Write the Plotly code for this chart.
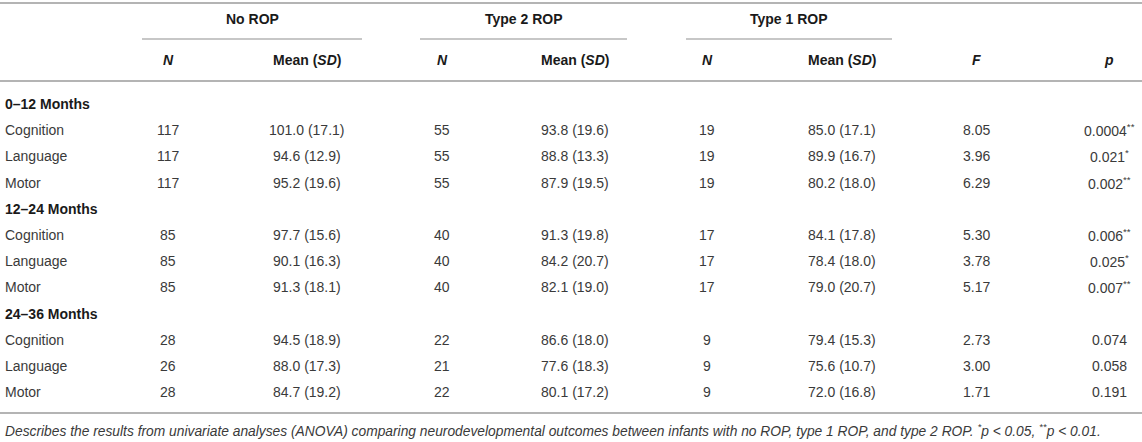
import plotly.graph_objects as go

groups = ["No ROP", "Type 2 ROP", "Type 1 ROP"]
sections = ["0–12 Months", "12–24 Months", "24–36 Months"]
measures = ["Cognition", "Language", "Motor"]

n_none = [117, 117, 117, 85, 85, 85, 28, 26, 28]
mean_none = [101.0, 94.6, 95.2, 97.7, 90.1, 91.3, 94.5, 88.0, 84.7]
sd_none = [17.1, 12.9, 19.6, 15.6, 16.3, 18.1, 18.9, 17.3, 19.2]

n_type2 = [55, 55, 55, 40, 40, 40, 22, 21, 22]
mean_type2 = [93.8, 88.8, 87.9, 91.3, 84.2, 82.1, 86.6, 77.6, 80.1]
sd_type2 = [19.6, 13.3, 19.5, 19.8, 20.7, 19.0, 18.0, 18.3, 17.2]

n_type1 = [19, 19, 19, 17, 17, 17, 9, 9, 9]
mean_type1 = [85.0, 89.9, 80.2, 84.1, 78.4, 79.0, 79.4, 75.6, 72.0]
sd_type1 = [17.1, 16.7, 18.0, 17.8, 18.0, 20.7, 15.3, 10.7, 16.8]

f_vals = [8.05, 3.96, 6.29, 5.30, 3.78, 5.17, 2.73, 3.00, 1.71]
p_vals = ["0.0004", "0.021", "0.002", "0.006", "0.025", "0.007", "0.074", "0.058", "0.191"]
p_stars = ["**", "*", "**", "**", "*", "**", "", "", ""]

footnote = ("Describes the results from univariate analyses (ANOVA) comparing neurodevelopmental "
            "outcomes between infants with no ROP, type 1 ROP, and type 2 ROP. "
            "<sup>*</sup>p &lt; 0.05, <sup>**</sup>p &lt; 0.01.")

# layout (pixels)
W, H = 1142, 442
group_x = [252, 524, 789]
group_span = [(142, 362), (420, 627), (686, 892)]
n_x = [168, 442, 707]
mean_x = [307, 575, 842]
f_x = 976
p_x = 1109
row0_y = 104
row_step = 26.2

FONT = "Liberation Sans, Arial, sans-serif"
BODY = "#3a3a3a"
HEAD = "#1a1a1a"
RULE = "#b4b4b4"

fig = go.Figure()
ann = []


def txt(x, y, s, anchor="center", size=14, color=BODY):
    ann.append(dict(x=x, y=y, text=s, showarrow=False, xanchor=anchor, yanchor="middle",
                    font=dict(family=FONT, size=size, color=color)))


# header
for g, gx in zip(groups, group_x):
    txt(gx, 19, "<b>%s</b>" % g, color=HEAD)
for nx, mx in zip(n_x, mean_x):
    txt(nx, 60, "<b><i>N</i></b>", color=HEAD)
    txt(mx, 60, "<b>Mean (<i>SD</i>)</b>", color=HEAD)
txt(f_x, 60, "<b><i>F</i></b>", color=HEAD)
txt(p_x, 60, "<b><i>p</i></b>", color=HEAD)

# body
cols = [(n_none, mean_none, sd_none), (n_type2, mean_type2, sd_type2), (n_type1, mean_type1, sd_type1)]
row = 0
for si, sec in enumerate(sections):
    y = row0_y + row * row_step
    txt(3, y, "<b>%s</b>" % sec, anchor="left", color=HEAD)
    row += 1
    for mi, m in enumerate(measures):
        i = si * 3 + mi
        y = row0_y + row * row_step
        txt(3, y, m, anchor="left")
        for (ns, ms, sds), nx, mx in zip(cols, n_x, mean_x):
            txt(nx, y, str(ns[i]))
            txt(mx, y, "%.1f (%.1f)" % (ms[i], sds[i]))
        txt(f_x, y, "%.2f" % f_vals[i])
        stars = "<sup>%s</sup>" % p_stars[i] if p_stars[i] else ""
        txt(p_x, y, p_vals[i] + stars)
        row += 1

txt(3, 430, "<i>%s</i>" % footnote, anchor="left", size=13.8)

shapes = []
for yy in [3, 81, 413]:
    shapes.append(dict(type="line", x0=0, x1=W, y0=yy, y1=yy, line=dict(color=RULE, width=2)))
for x0, x1 in group_span:
    shapes.append(dict(type="line", x0=x0, x1=x1, y0=39, y1=39, line=dict(color=RULE, width=1.5)))

fig.update_layout(
    width=W, height=H,
    margin=dict(l=0, r=0, t=0, b=0),
    paper_bgcolor="white", plot_bgcolor="white",
    xaxis=dict(range=[0, W], visible=False, fixedrange=True),
    yaxis=dict(range=[H, 0], visible=False, fixedrange=True),
    annotations=ann, shapes=shapes,
    showlegend=False,
)
fig.write_html("out.html", config={"displayModeBar": False},
               post_script="document.body.style.margin='0';document.body.style.overflow='hidden';")
